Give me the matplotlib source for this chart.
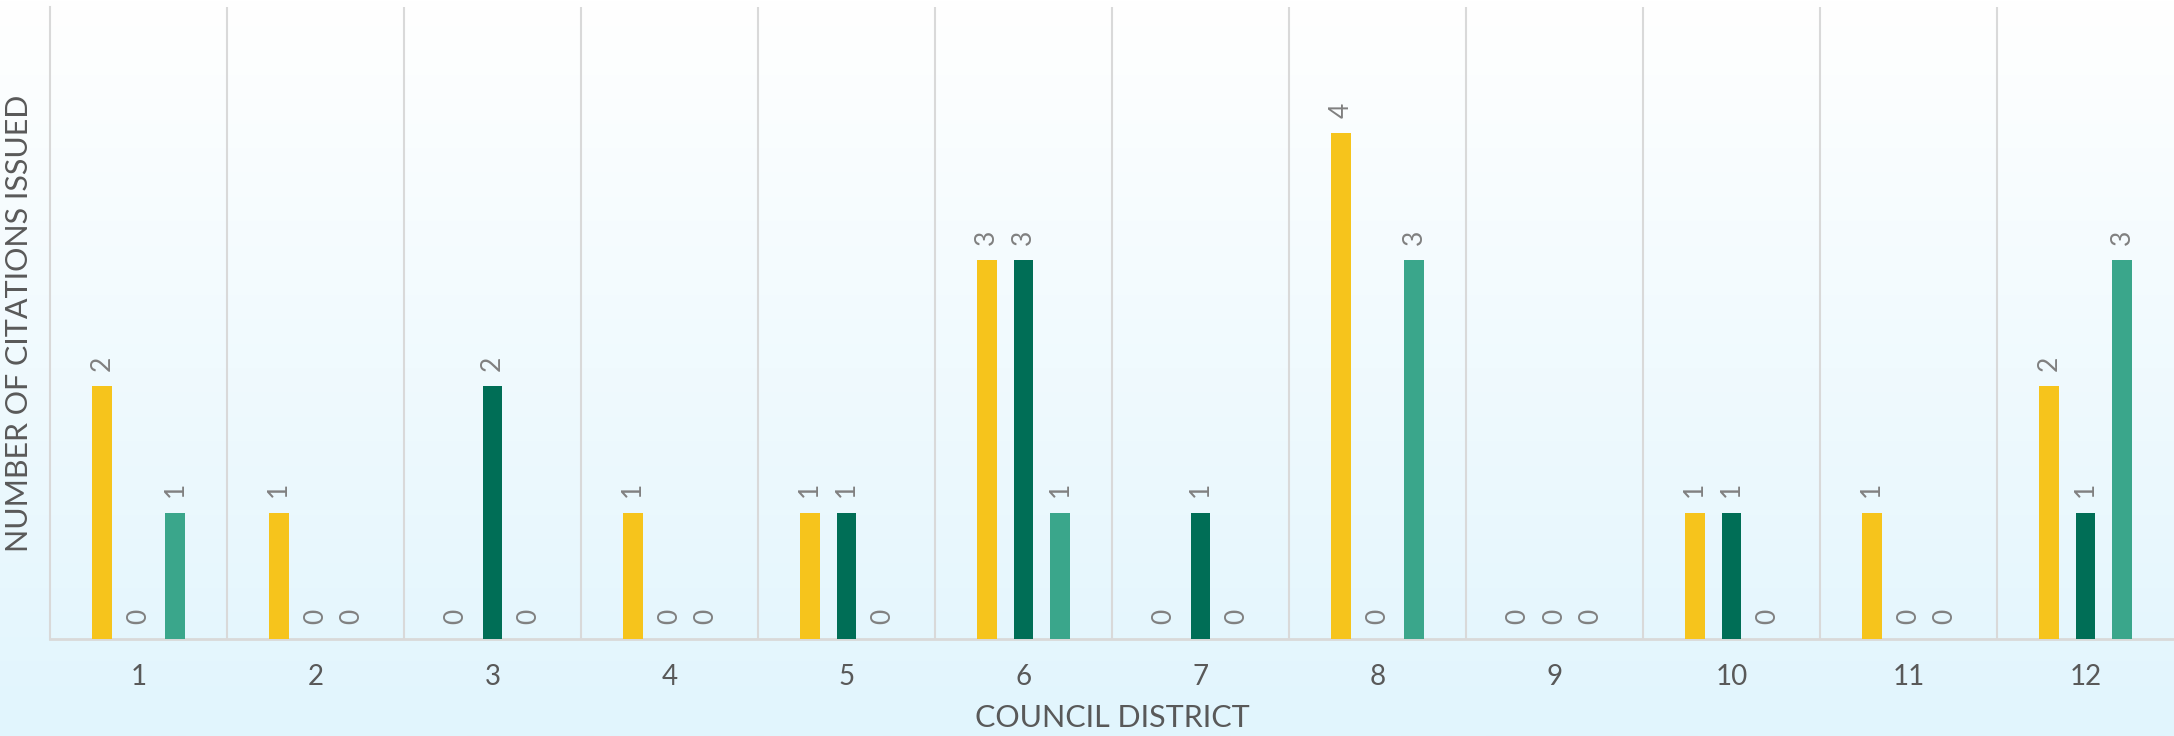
import numpy as np
import matplotlib
matplotlib.use('Agg')
import matplotlib.pyplot as plt
from matplotlib.colors import LinearSegmentedColormap

plt.rcParams['font.family'] = ['Lato', 'DejaVu Sans']

# citations issued per council district, three series
districts = ['1', '2', '3', '4', '5', '6', '7', '8', '9', '10', '11', '12']
series_a = [2, 1, 0, 1, 1, 3, 0, 4, 0, 1, 1, 2]
series_b = [0, 0, 2, 0, 1, 3, 1, 0, 0, 1, 0, 1]
series_c = [1, 0, 0, 0, 0, 1, 0, 3, 0, 0, 0, 3]
colors = ['#F6C41C', '#006E56', '#3AA68B']

fig = plt.figure(figsize=(21.74, 7.36), dpi=100)

# background gradient over the whole figure
bg = fig.add_axes([0, 0, 1, 1], zorder=-1)
cmap = LinearSegmentedColormap.from_list('bg', ['#FFFFFF', '#E1F5FD'])
bg.imshow(np.linspace(0, 1, 256).reshape(-1, 1), aspect='auto', cmap=cmap,
          extent=[0, 1, 0, 1])
bg.axis('off')

ax = fig.add_axes([0.023, 0.1318, 0.977, 0.8587])
ax.patch.set_alpha(0)

x = np.arange(1, len(districts) + 1)
offset = 0.207
width = 0.11
for i, (vals, c) in enumerate(zip([series_a, series_b, series_c], colors)):
    pos = x + (i - 1) * offset
    ax.bar(pos, vals, width=width, color=c, zorder=3)
    for px, v in zip(pos, vals):
        ax.annotate(str(v), (px, v), xytext=(0, 11), textcoords='offset points',
                    rotation=90, ha='center', va='bottom', fontsize=19,
                    color='#808080')

ax.set_xlim(0.5, 12.5)
ax.set_ylim(0, 5)
for b in np.arange(1.5, 12.5, 1):
    ax.axvline(b, color='#D9D9D9', lw=1.5, zorder=1)

for s in ['top', 'right']:
    ax.spines[s].set_visible(False)
ax.spines['left'].set_color('#D9D9D9')
ax.spines['left'].set_linewidth(1.5)
ax.spines['bottom'].set_color('#D9D9D9')
ax.spines['bottom'].set_linewidth(2)

ax.set_xticks(x)
ax.set_xticklabels(districts, fontsize=20, color='#595959')
ax.set_yticks([])
ax.tick_params(axis='x', length=0, pad=18)

ax.set_xlabel('COUNCIL DISTRICT', fontsize=22, color='#595959', labelpad=10)
ax.set_ylabel('NUMBER OF CITATIONS ISSUED', fontsize=22, color='#595959',
              labelpad=12)

fig.savefig('out.png', dpi=100)
